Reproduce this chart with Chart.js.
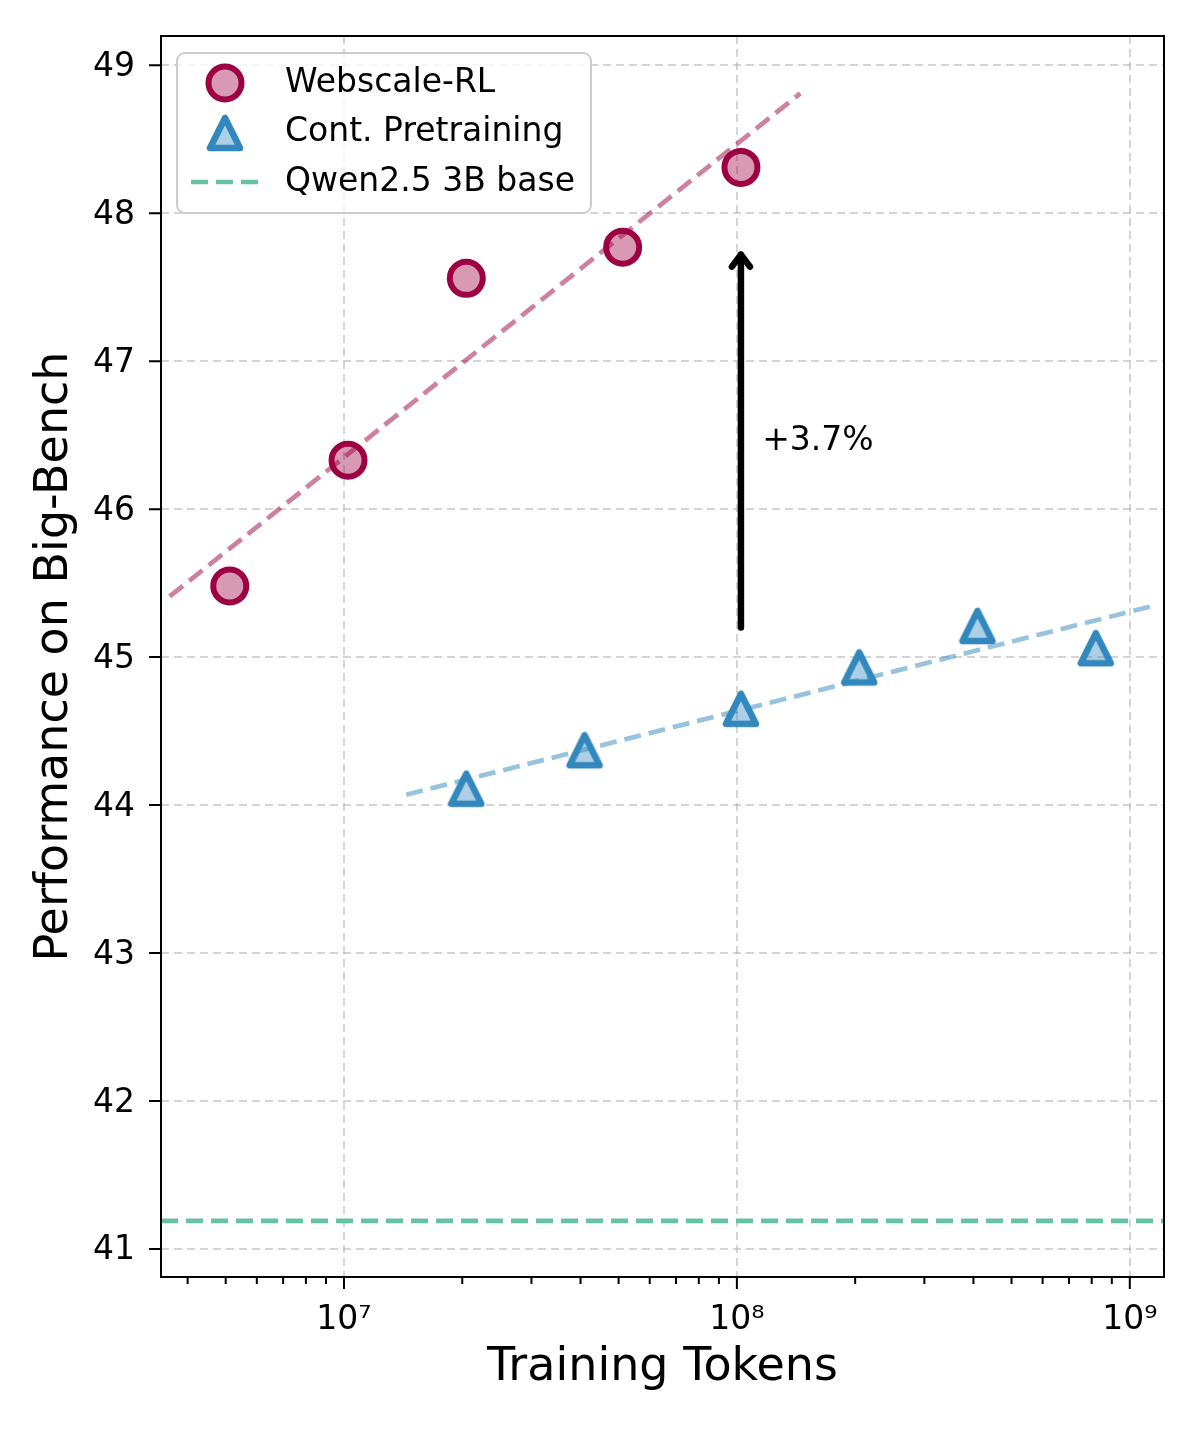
<!DOCTYPE html>
<html>
<head>
<meta charset="utf-8">
<script src="https://cdn.jsdelivr.net/npm/chart.js@4.4.1/dist/chart.umd.min.js"></script>
<style>
  html, body { margin: 0; padding: 0; background: #fff; }
  #wrap { width: 1200px; height: 1440px; }
</style>
</head>
<body>
<div id="wrap"><canvas id="chart"></canvas></div>
<script>
// values
var webTokens = [5.12e6, 1.024e7, 2.048e7, 5.12e7, 1.024e8];
var webScore = [45.48, 46.33, 47.56, 47.77, 48.31];
var contTokens = [2.048e7, 4.096e7, 1.024e8, 2.048e8, 4.096e8, 8.192e8];
var contScore = [44.11, 44.37, 44.65, 44.93, 45.21, 45.06];

// fitted trend lines (end points)
var webFitTokens = [3.6e6, 1.45e8];
var webFitScore = [45.41, 48.81];
var contFitTokens = [1.44e7, 1.16e9];
var contFitScore = [44.07, 45.35];

var baseScore = 41.19;

// annotation
var arrowTokens = 1.024e8;
var arrowFrom = 45.2;
var arrowTo = 47.72;
var gainText = '+3.7%';
var gainTokens = 1.16e8;
var gainScore = 46.48;

// axes
var xMin = 3.422e6, xMax = 1.222e9;
var yMin = 40.81, yMax = 49.198;
var xTickValues = [1e7, 1e8, 1e9];
var xTickLabels = ['10⁷', '10⁸', '10⁹'];
var xMinorValues = [4e6, 5e6, 6e6, 7e6, 8e6, 9e6,
                    2e7, 3e7, 4e7, 5e7, 6e7, 7e7, 8e7, 9e7,
                    2e8, 3e8, 4e8, 5e8, 6e8, 7e8, 8e8, 9e8];
var yTickValues = [41, 42, 43, 44, 45, 46, 47, 48, 49];

var seriesNames = ['Webscale-RL', 'Cont. Pretraining', 'Qwen2.5 3B base'];

var RED = '#9e0142', RED_FILL = 'rgba(158,1,66,0.4)', RED_FIT = 'rgba(158,1,66,0.5)';
var BLUE = '#3288bd', BLUE_FILL = 'rgba(50,136,189,0.4)', BLUE_FIT = 'rgba(50,136,189,0.5)';
var GREEN = '#66c2a5';
var FONT = "'DejaVu Sans', sans-serif";

function pts(xs, ys) {
    var out = [];
    for (var i = 0; i < xs.length; i++) out.push({x: xs[i], y: ys[i]});
    return out;
}

// matplotlib style '^' marker
var tri = document.createElement('canvas');
tri.width = 44; tri.height = 44;
(function () {
    var c = tri.getContext('2d');
    c.beginPath();
    c.moveTo(22, 7);
    c.lineTo(7, 37);
    c.lineTo(37, 37);
    c.closePath();
    c.fillStyle = BLUE_FILL;
    c.fill();
    c.lineWidth = 6.5;
    c.lineJoin = 'round';
    c.strokeStyle = BLUE;
    c.stroke();
})();

var extras = {
    id: 'extras',
    afterDatasetsDraw: function (chart) {
        var ctx = chart.ctx, xs = chart.scales.x, ys = chart.scales.y;
        var ax = xs.getPixelForValue(arrowTokens);
        var a0 = ys.getPixelForValue(arrowFrom);
        var a1 = ys.getPixelForValue(arrowTo);
        ctx.save();
        ctx.strokeStyle = '#000';
        ctx.lineWidth = 6.5;
        ctx.lineCap = 'round';
        ctx.lineJoin = 'round';
        ctx.beginPath();
        ctx.moveTo(ax, a0);
        ctx.lineTo(ax, a1);
        ctx.stroke();
        ctx.beginPath();
        ctx.moveTo(ax - 9, a1 + 12);
        ctx.lineTo(ax, a1);
        ctx.lineTo(ax + 9, a1 + 12);
        ctx.stroke();
        ctx.fillStyle = '#000';
        ctx.font = '33px ' + FONT;
        ctx.textAlign = 'left';
        ctx.textBaseline = 'middle';
        ctx.fillText(gainText, xs.getPixelForValue(gainTokens), ys.getPixelForValue(gainScore) + 3);
        ctx.restore();
    },
    afterDraw: function (chart) {
        var ctx = chart.ctx, a = chart.chartArea, xs = chart.scales.x, ys = chart.scales.y;
        ctx.save();
        ctx.strokeStyle = '#000';
        ctx.lineWidth = 2;
        // ticks
        ctx.beginPath();
        xTickValues.forEach(function (v) {
            var p = xs.getPixelForValue(v);
            ctx.moveTo(p, a.bottom); ctx.lineTo(p, a.bottom + 12);
        });
        xMinorValues.forEach(function (v) {
            var p = xs.getPixelForValue(v);
            ctx.moveTo(p, a.bottom); ctx.lineTo(p, a.bottom + 7);
        });
        yTickValues.forEach(function (v) {
            var p = ys.getPixelForValue(v);
            ctx.moveTo(a.left, p); ctx.lineTo(a.left - 12, p);
        });
        ctx.stroke();
        // frame
        ctx.strokeRect(a.left, a.top, a.right - a.left, a.bottom - a.top);

        // legend
        var lx = 177, ly = 53, lw = 414, lh = 160;
        ctx.beginPath();
        ctx.roundRect(lx, ly, lw, lh, 8);
        ctx.fillStyle = 'rgba(255,255,255,0.8)';
        ctx.fill();
        ctx.strokeStyle = '#cccccc';
        ctx.lineWidth = 2;
        ctx.stroke();

        var mx = 225;
        ctx.beginPath();
        ctx.arc(mx, 83, 16.5, 0, Math.PI * 2);
        ctx.fillStyle = RED_FILL;
        ctx.fill();
        ctx.strokeStyle = RED;
        ctx.lineWidth = 6;
        ctx.stroke();

        ctx.drawImage(tri, mx - 22, 133 - 22);

        ctx.beginPath();
        ctx.setLineDash([17, 8]);
        ctx.strokeStyle = GREEN;
        ctx.lineWidth = 4.7;
        ctx.moveTo(191, 182);
        ctx.lineTo(258, 182);
        ctx.stroke();
        ctx.setLineDash([]);

        ctx.fillStyle = '#000';
        ctx.font = '33px ' + FONT;
        ctx.textAlign = 'left';
        ctx.textBaseline = 'middle';
        ctx.fillText(seriesNames[0], 285, 83);
        ctx.fillText(seriesNames[1], 285, 132.5);
        ctx.fillText(seriesNames[2], 285, 182);
        ctx.restore();
    }
};

var gridColor = 'rgba(176,176,176,0.55)';

new Chart(document.getElementById('chart'), {
    type: 'scatter',
    data: {
        datasets: [
            {
                label: seriesNames[0],
                data: pts(webTokens, webScore),
                pointStyle: 'circle',
                pointRadius: 16.5,
                pointBorderWidth: 6,
                backgroundColor: RED_FILL,
                borderColor: RED,
                order: 1
            },
            {
                label: seriesNames[1],
                data: pts(contTokens, contScore),
                pointStyle: tri,
                pointRadius: 17,
                backgroundColor: BLUE_FILL,
                borderColor: BLUE,
                order: 1
            },
            {
                type: 'line',
                label: 'webfit',
                data: pts(webFitTokens, webFitScore),
                borderColor: RED_FIT,
                borderWidth: 4.7,
                borderDash: [17, 8],
                pointRadius: 0,
                fill: false,
                order: 2
            },
            {
                type: 'line',
                label: 'contfit',
                data: pts(contFitTokens, contFitScore),
                borderColor: BLUE_FIT,
                borderWidth: 4.7,
                borderDash: [17, 8],
                pointRadius: 0,
                fill: false,
                order: 2
            },
            {
                type: 'line',
                label: seriesNames[2],
                data: pts([xMin, xMax], [baseScore, baseScore]),
                borderColor: GREEN,
                borderWidth: 4.7,
                borderDash: [17, 8],
                pointRadius: 0,
                fill: false,
                order: 2
            }
        ]
    },
    options: {
        responsive: true,
        maintainAspectRatio: false,
        devicePixelRatio: 1,
        animation: false,
        layout: { padding: { left: 0, top: 36, right: 36, bottom: 0 } },
        plugins: {
            legend: { display: false },
            tooltip: { enabled: false }
        },
        scales: {
            x: {
                type: 'logarithmic',
                min: xMin,
                max: xMax,
                bounds: 'data',
                afterBuildTicks: function (s) {
                    s.ticks = xTickValues.map(function (v) { return {value: v}; });
                },
                afterFit: function (s) { s.height = 163; },
                ticks: {
                    autoSkip: false,
                    maxRotation: 0,
                    padding: 12,
                    color: '#000',
                    font: { family: FONT, size: 33 },
                    callback: function (v) { return xTickLabels[xTickValues.indexOf(v)]; }
                },
                grid: {
                    color: gridColor,
                    lineWidth: 2,
                    tickLength: 12,
                    tickColor: 'rgba(0,0,0,0)'
                },
                border: { display: false, dash: [8, 5] },
                title: {
                    display: true,
                    text: 'Training Tokens',
                    color: '#000',
                    font: { family: FONT, size: 46 },
                    padding: { top: 0, bottom: 44 }
                }
            },
            y: {
                type: 'linear',
                min: yMin,
                max: yMax,
                bounds: 'data',
                afterBuildTicks: function (s) {
                    s.ticks = yTickValues.map(function (v) { return {value: v}; });
                },
                afterFit: function (s) { s.width = 161; },
                ticks: {
                    padding: 14,
                    labelOffset: 2,
                    color: '#000',
                    font: { family: FONT, size: 33 },
                    callback: function (v) { return String(v); }
                },
                grid: {
                    color: gridColor,
                    lineWidth: 2,
                    tickLength: 12,
                    tickColor: 'rgba(0,0,0,0)'
                },
                border: { display: false, dash: [8, 5] },
                title: {
                    display: true,
                    text: 'Performance on Big-Bench',
                    color: '#000',
                    font: { family: FONT, size: 46 },
                    padding: { top: 27, bottom: 0 }
                }
            }
        }
    },
    plugins: [extras]
});
</script>
</body>
</html>
